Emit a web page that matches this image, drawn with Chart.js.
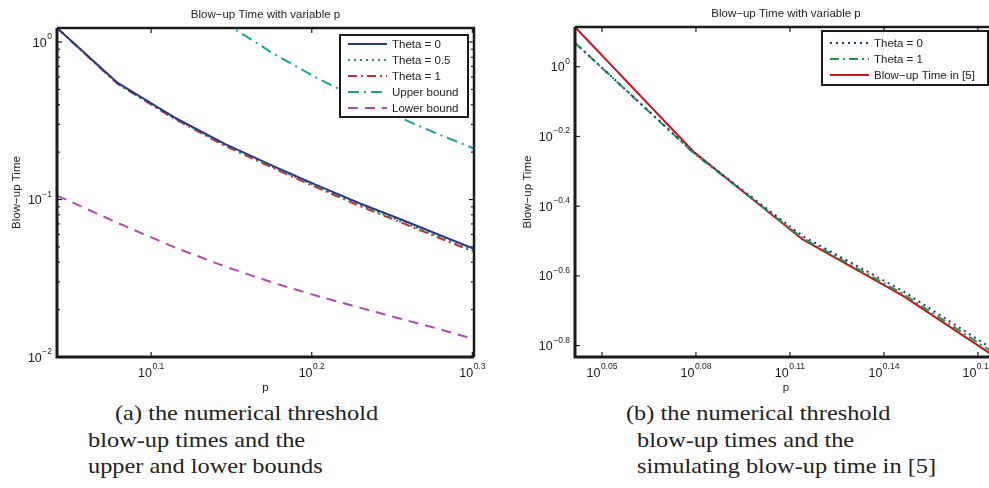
<!DOCTYPE html>
<html>
<head>
<meta charset="utf-8">
<script src="https://cdn.jsdelivr.net/npm/chart.js@4.4.1/dist/chart.umd.min.js"></script>
<style>
  html, body { margin: 0; padding: 0; background: #fff; overflow: hidden; }
  #wrap { position: relative; width: 989px; height: 488px; overflow: hidden; }
  .box { position: absolute; top: 0; height: 400px; }
  #boxA { left: 0; width: 495px; }
  #boxB { left: 500px; width: 510px; }
  .cap { position: absolute; font-family: "Liberation Serif", "DejaVu Serif", serif;
         font-size: 21px; line-height: 26px; white-space: nowrap; color: #222;
         transform: scaleX(1.16); transform-origin: 0 0; }
</style>
</head>
<body>
<div id="wrap">
  <div class="box" id="boxA"><canvas id="chartA" width="495" height="400"></canvas></div>
  <div class="box" id="boxB"><canvas id="chartB" width="510" height="400"></canvas></div>
  <div class="cap" style="left:115px; top:400px">(a) the numerical threshold</div>
  <div class="cap" style="left:88px; top:427px">blow-up times and the</div>
  <div class="cap" style="left:88px; top:453px">upper and lower bounds</div>
  <div class="cap" style="left:626px; top:400px">(b) the numerical threshold</div>
  <div class="cap" style="left:637px; top:427px">blow-up times and the</div>
  <div class="cap" style="left:637px; top:453px">simulating blow-up time in [5]</div>
</div>
<script>
// ---- data ----
// (a) p = 1.1 .. 2.0
const pA = [1.1, 1.2, 1.3, 1.4, 1.5, 1.6, 1.7, 1.8, 1.9, 2.0];
const theta0A = [1.228, 0.55, 0.335, 0.225, 0.163, 0.122, 0.094, 0.075, 0.060, 0.0487];
const theta05A = [1.228, 0.545, 0.331, 0.221, 0.160, 0.1195, 0.0918, 0.0728, 0.0582, 0.0472];
const theta1A = [1.228, 0.541, 0.328, 0.219, 0.158, 0.118, 0.0905, 0.0718, 0.0574, 0.0465];
const upperA = [21, 5.3, 2.35, 1.32, 0.845, 0.585, 0.43, 0.33, 0.26, 0.211];
const lowerA = [0.106, 0.071, 0.050, 0.0375, 0.0296, 0.0243, 0.0205, 0.0175, 0.0151, 0.0130];

// (b) p = 1.1 .. 1.5
const pB = [1.1, 1.2, 1.3, 1.4, 1.5];
const theta0B = [1.171, 0.568, 0.327, 0.227, 0.152];
const theta1B = [1.171, 0.566, 0.323, 0.223, 0.149];
const refB = [1.30, 0.571, 0.320, 0.220, 0.146];

// tick exponents (labels are 10^e)
const xTicksA = [0.1, 0.2, 0.3];
const yTicksA = [-2, -1, 0];
const xTicksB = [0.05, 0.08, 0.11, 0.14, 0.17];
const yTicksB = [-0.8, -0.6, -0.4, -0.2, 0];

const SANS = '"Liberation Sans", Arial, Helvetica, sans-serif';
const INK = '#1a1a1a';

const pts = (xs, ys) => xs.map((x, i) => ({ x, y: ys[i] }));

function line(label, xs, ys, color, dash) {
    return {
        label,
        data: pts(xs, ys),
        borderColor: color,
        borderWidth: 2,
        borderDash: dash,
        pointRadius: 0,
        tension: 0,
        fill: false,
    };
}

function expText(e) {
    return String(e).replace('-', '\u2212');
}

// "10" with a raised exponent, drawn on the canvas
function drawPow(ctx, e, x, y, align) {
    const base = '12.5px ' + SANS, sup = '8.5px ' + SANS;
    const s = expText(e);
    ctx.font = base;
    const wb = ctx.measureText('10').width;
    ctx.font = sup;
    const we = ctx.measureText(s).width;
    const w = wb + we + 0.5;
    const x0 = align === 'right' ? x - w : x - w / 2;
    ctx.textAlign = 'left';
    ctx.textBaseline = 'alphabetic';
    ctx.font = base;
    ctx.fillText('10', x0, y);
    ctx.font = sup;
    ctx.fillText(s, x0 + wb + 0.5, y - 7.5);
}

// MATLAB-style box, inward ticks, labels, titles and legend
const matlabAxes = {
    id: 'matlabAxes',
    afterDatasetsDraw(chart, args, o) {
        const ctx = chart.ctx;
        const a = chart.chartArea;
        const xs = chart.scales.x, ys = chart.scales.y;
        ctx.save();
        ctx.strokeStyle = INK;
        ctx.fillStyle = INK;

        // ticks
        ctx.lineWidth = 1.2;
        const tick = (x1, y1, x2, y2) => { ctx.beginPath(); ctx.moveTo(x1, y1); ctx.lineTo(x2, y2); ctx.stroke(); };
        o.xTicks.forEach(e => {
            const x = xs.getPixelForValue(Math.pow(10, e));
            tick(x, a.bottom, x, a.bottom - 5);
            tick(x, a.top, x, a.top + 5);
            drawPow(ctx, e, x, a.bottom + 19.5, 'center');
        });
        o.yTicks.forEach(e => {
            const y = ys.getPixelForValue(Math.pow(10, e));
            tick(a.left, y, a.left + 5, y);
            tick(a.right, y, a.right - 5, y);
            drawPow(ctx, e, a.left - 5, y + 4.5, 'right');
        });
        (o.yMinor || []).forEach(v => {
            const y = ys.getPixelForValue(v);
            if (y < a.top + 1 || y > a.bottom - 1) return;
            tick(a.left, y, a.left + 3, y);
            tick(a.right, y, a.right - 3, y);
        });

        // box
        ctx.lineWidth = 3;
        ctx.beginPath();
        ctx.moveTo(a.left, a.top); ctx.lineTo(a.left, a.bottom); ctx.lineTo(a.right, a.bottom);
        ctx.stroke();
        ctx.lineWidth = 2.5;
        ctx.beginPath();
        ctx.moveTo(a.left, a.top); ctx.lineTo(a.right, a.top); ctx.lineTo(a.right, a.bottom);
        ctx.stroke();

        // titles
        ctx.fillStyle = '#222';
        ctx.font = '11.5px ' + SANS;
        ctx.textAlign = 'center';
        ctx.textBaseline = 'middle';
        const cx = (a.left + a.right) / 2;
        ctx.fillText('Blow\u2212up Time with variable p', cx, o.titleY);
        ctx.fillText('p', cx, a.bottom + 31);
        ctx.save();
        ctx.translate(o.yTitleX, (a.top + a.bottom) / 2);
        ctx.rotate(-Math.PI / 2);
        ctx.fillText('Blow\u2212up Time', 0, 0);
        ctx.restore();

        // legend
        const L = o.legend;
        ctx.fillStyle = '#fff';
        ctx.fillRect(L.x, L.y, L.w, L.h);
        ctx.strokeStyle = INK;
        ctx.lineWidth = 2;
        ctx.strokeRect(L.x, L.y, L.w, L.h);
        chart.data.datasets.forEach((ds, i) => {
            const y = L.y + L.first + i * L.row;
            ctx.save();
            ctx.strokeStyle = ds.borderColor;
            ctx.lineWidth = ds.borderWidth;
            ctx.setLineDash(ds.borderDash || []);
            ctx.beginPath();
            ctx.moveTo(L.x + 8, y);
            ctx.lineTo(L.x + 8 + L.sample, y);
            ctx.stroke();
            ctx.restore();
            ctx.fillStyle = '#222';
            ctx.font = '11.5px ' + SANS;
            ctx.textAlign = 'left';
            ctx.textBaseline = 'middle';
            ctx.fillText(ds.label, L.x + 13 + L.sample, y + 0.5);
        });
        ctx.restore();
    }
};

function minorTicks(decades) {
    const out = [];
    decades.forEach(d => { for (let k = 2; k <= 9; k++) out.push(k * Math.pow(10, d)); });
    return out;
}

function makeChart(id, datasets, xr, yr, pad, axes) {
    return new Chart(document.getElementById(id), {
        type: 'line',
        data: { datasets },
        options: {
            responsive: false,
            animation: false,
            layout: { padding: pad },
            scales: {
                x: { type: 'logarithmic', min: xr[0], max: xr[1], display: false },
                y: { type: 'logarithmic', min: yr[0], max: yr[1], display: false },
            },
            plugins: { legend: { display: false }, tooltip: { enabled: false }, matlabAxes: axes },
        },
        plugins: [matlabAxes],
    });
}

makeChart('chartA', [
    line('Theta = 0', pA, theta0A, '#26388c', []),
    line('Theta = 0.5', pA, theta05A, '#1f9a48', [2, 4]),
    line('Theta = 1', pA, theta1A, '#d8232a', [9, 4, 2, 4]),
    line('Upper bound', pA, upperA, '#17a0a0', [11, 5, 2, 5]),
    line('Lower bound', pA, lowerA, '#b446b4', [10, 7]),
], [1.1, 2.0], [0.01, 1.228], { left: 57, top: 28, right: 21, bottom: 43 }, {
    xTicks: xTicksA, yTicks: yTicksA, yMinor: minorTicks([-2, -1, 0]),
    titleY: 15, yTitleX: 17,
    legend: { x: 340, y: 35, w: 128, h: 82, first: 9, row: 16, sample: 39 },
});

makeChart('chartB', [
    line('Theta = 0', pB, theta0B, '#26388c', [2, 4]),
    line('Theta = 1', pB, theta1B, '#1f9a48', [9, 4, 2, 4]),
    line('Blow\u2212up Time in [5]', pB, refB, '#c8141e', []),
], [1.1, 1.5], [0.147, 1.30], { left: 75, top: 27, right: 13, bottom: 43 }, {
    xTicks: xTicksB, yTicks: yTicksB, yMinor: [],
    titleY: 14, yTitleX: 28,
    legend: { x: 322, y: 31, w: 166, h: 54, first: 12, row: 16, sample: 39 },
});
</script>
</body>
</html>
